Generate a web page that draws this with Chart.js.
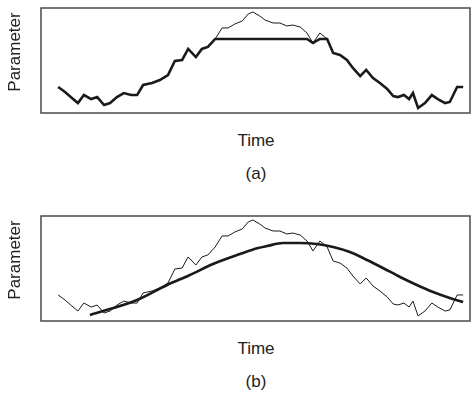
<!DOCTYPE html>
<html>
<head>
<meta charset="utf-8">
<script src="https://cdn.jsdelivr.net/npm/chart.js@4.4.1/dist/chart.umd.min.js"></script>
<style>
    html, body { margin: 0; padding: 0; background: #fff; }
    #page { position: relative; width: 471px; height: 394px; font-family: "Liberation Sans", Arial, sans-serif; color: #222; }
    .panel { position: absolute; left: 0; width: 471px; height: 130px; }
    .lbl { position: absolute; font-size: 17px; white-space: nowrap; transform: translate(-50%, -50%); }
    .ylbl { transform: translate(-50%, -50%) rotate(-90deg); }
</style>
</head>
<body>
<div id="page">
    <div class="panel" style="top:0"><canvas id="chartA" width="471" height="130"></canvas></div>
    <div class="panel" style="top:208px"><canvas id="chartB" width="471" height="130"></canvas></div>
    <div class="lbl ylbl" style="left:15px; top:52px">Parameter</div>
    <div class="lbl" style="left:256px; top:141px">Time</div>
    <div class="lbl" style="left:256px; top:174px">(a)</div>
    <div class="lbl ylbl" style="left:15px; top:260px">Parameter</div>
    <div class="lbl" style="left:256px; top:349px">Time</div>
    <div class="lbl" style="left:256px; top:382px">(b)</div>
</div>
<script>
var TIME = [4.0, 5.6, 7.2, 8.6, 10.0, 11.7, 13.1, 14.7, 16.1, 17.7, 19.3, 21.0, 22.4, 23.8, 25.9,
    27.7, 29.6, 31.2, 32.9, 34.3, 36.1, 37.5, 38.9, 40.6, 42.2, 43.6, 45.2, 46.9, 48.3, 49.4,
    51.0, 52.2, 54.1, 55.7, 57.3, 58.7, 60.4, 62.0, 63.4, 65.0, 66.7, 68.1, 69.7, 71.3, 72.7,
    74.4, 75.8, 77.4, 79.0, 80.7, 82.1, 83.2, 84.6, 85.8, 86.7, 87.9, 89.5, 91.1, 92.5, 94.2,
    95.3, 97.0, 98.4];
var PARAM = [24.8, 20.0, 14.3, 9.5, 17.1, 13.3, 15.2, 7.6, 9.5, 15.2, 19.0, 17.1, 17.1, 26.7, 28.6,
    31.4, 36.2, 49.5, 50.5, 61.0, 53.3, 61.0, 62.9, 70.5, 81.0, 81.0, 84.8, 87.6, 94.3, 96.2,
    92.4, 88.6, 85.7, 85.7, 82.9, 83.8, 81.9, 76.2, 66.7, 76.2, 70.5, 57.1, 55.2, 50.5, 42.9,
    35.2, 41.0, 33.3, 28.6, 22.9, 16.2, 15.2, 17.1, 13.3, 19.0, 4.8, 9.5, 17.1, 13.3, 9.5,
    10.5, 24.8, 24.8];

// (a) clipping level
var CAP = 70.5;

// (b) fitted curve
var FIT_TIME = [11.4, 22.4, 29.4, 34.7, 40.1, 46.4, 50.6, 52.7, 56.4, 60.4, 64.3, 68.1, 72.0,
    76.0, 79.7, 83.7, 87.6, 91.4, 95.3, 98.4];
var FIT_PARAM = [5.7, 20.0, 34.3, 43.8, 54.3, 63.8, 69.5, 71.4, 74.3, 74.3, 73.3, 70.5, 65.7,
    58.1, 50.5, 41.9, 34.3, 27.6, 21.9, 18.1];

function toPoints(xs, ys) {
    var pts = [];
    for (var i = 0; i < xs.length; i++) {
        pts.push({x: xs[i], y: ys[i]});
    }
    return pts;
}

var clipped = PARAM.map(function (v) { return Math.min(v, CAP); });

// stroke the whole chart area as a box
var boxPlugin = {
    id: 'box',
    afterDraw: function (chart) {
        var a = chart.chartArea;
        var ctx = chart.ctx;
        ctx.save();
        ctx.strokeStyle = '#4a4a4a';
        ctx.lineWidth = 1.5;
        ctx.strokeRect(a.left, a.top, a.right - a.left, a.bottom - a.top);
        ctx.restore();
    }
};

function makeChart(id, datasets) {
    return new Chart(document.getElementById(id), {
        type: 'line',
        data: {datasets: datasets},
        options: {
            responsive: false,
            animation: false,
            layout: {padding: {left: 41, top: 8, right: 1, bottom: 17}},
            plugins: {legend: {display: false}, tooltip: {enabled: false}},
            elements: {point: {radius: 0}},
            scales: {
                x: {type: 'linear', min: 0, max: 100, display: false},
                y: {min: 0, max: 100, display: false}
            }
        },
        plugins: [boxPlugin]
    });
}

makeChart('chartA', [
    {data: toPoints(TIME, PARAM), borderColor: '#1a1a1a', borderWidth: 1, tension: 0},
    {data: toPoints(TIME, clipped), borderColor: '#1a1a1a', borderWidth: 2.6, tension: 0}
]);

makeChart('chartB', [
    {data: toPoints(TIME, PARAM), borderColor: '#1a1a1a', borderWidth: 1, tension: 0},
    {data: toPoints(FIT_TIME, FIT_PARAM), borderColor: '#1a1a1a', borderWidth: 2.6,
        cubicInterpolationMode: 'monotone'}
]);
</script>
</body>
</html>
